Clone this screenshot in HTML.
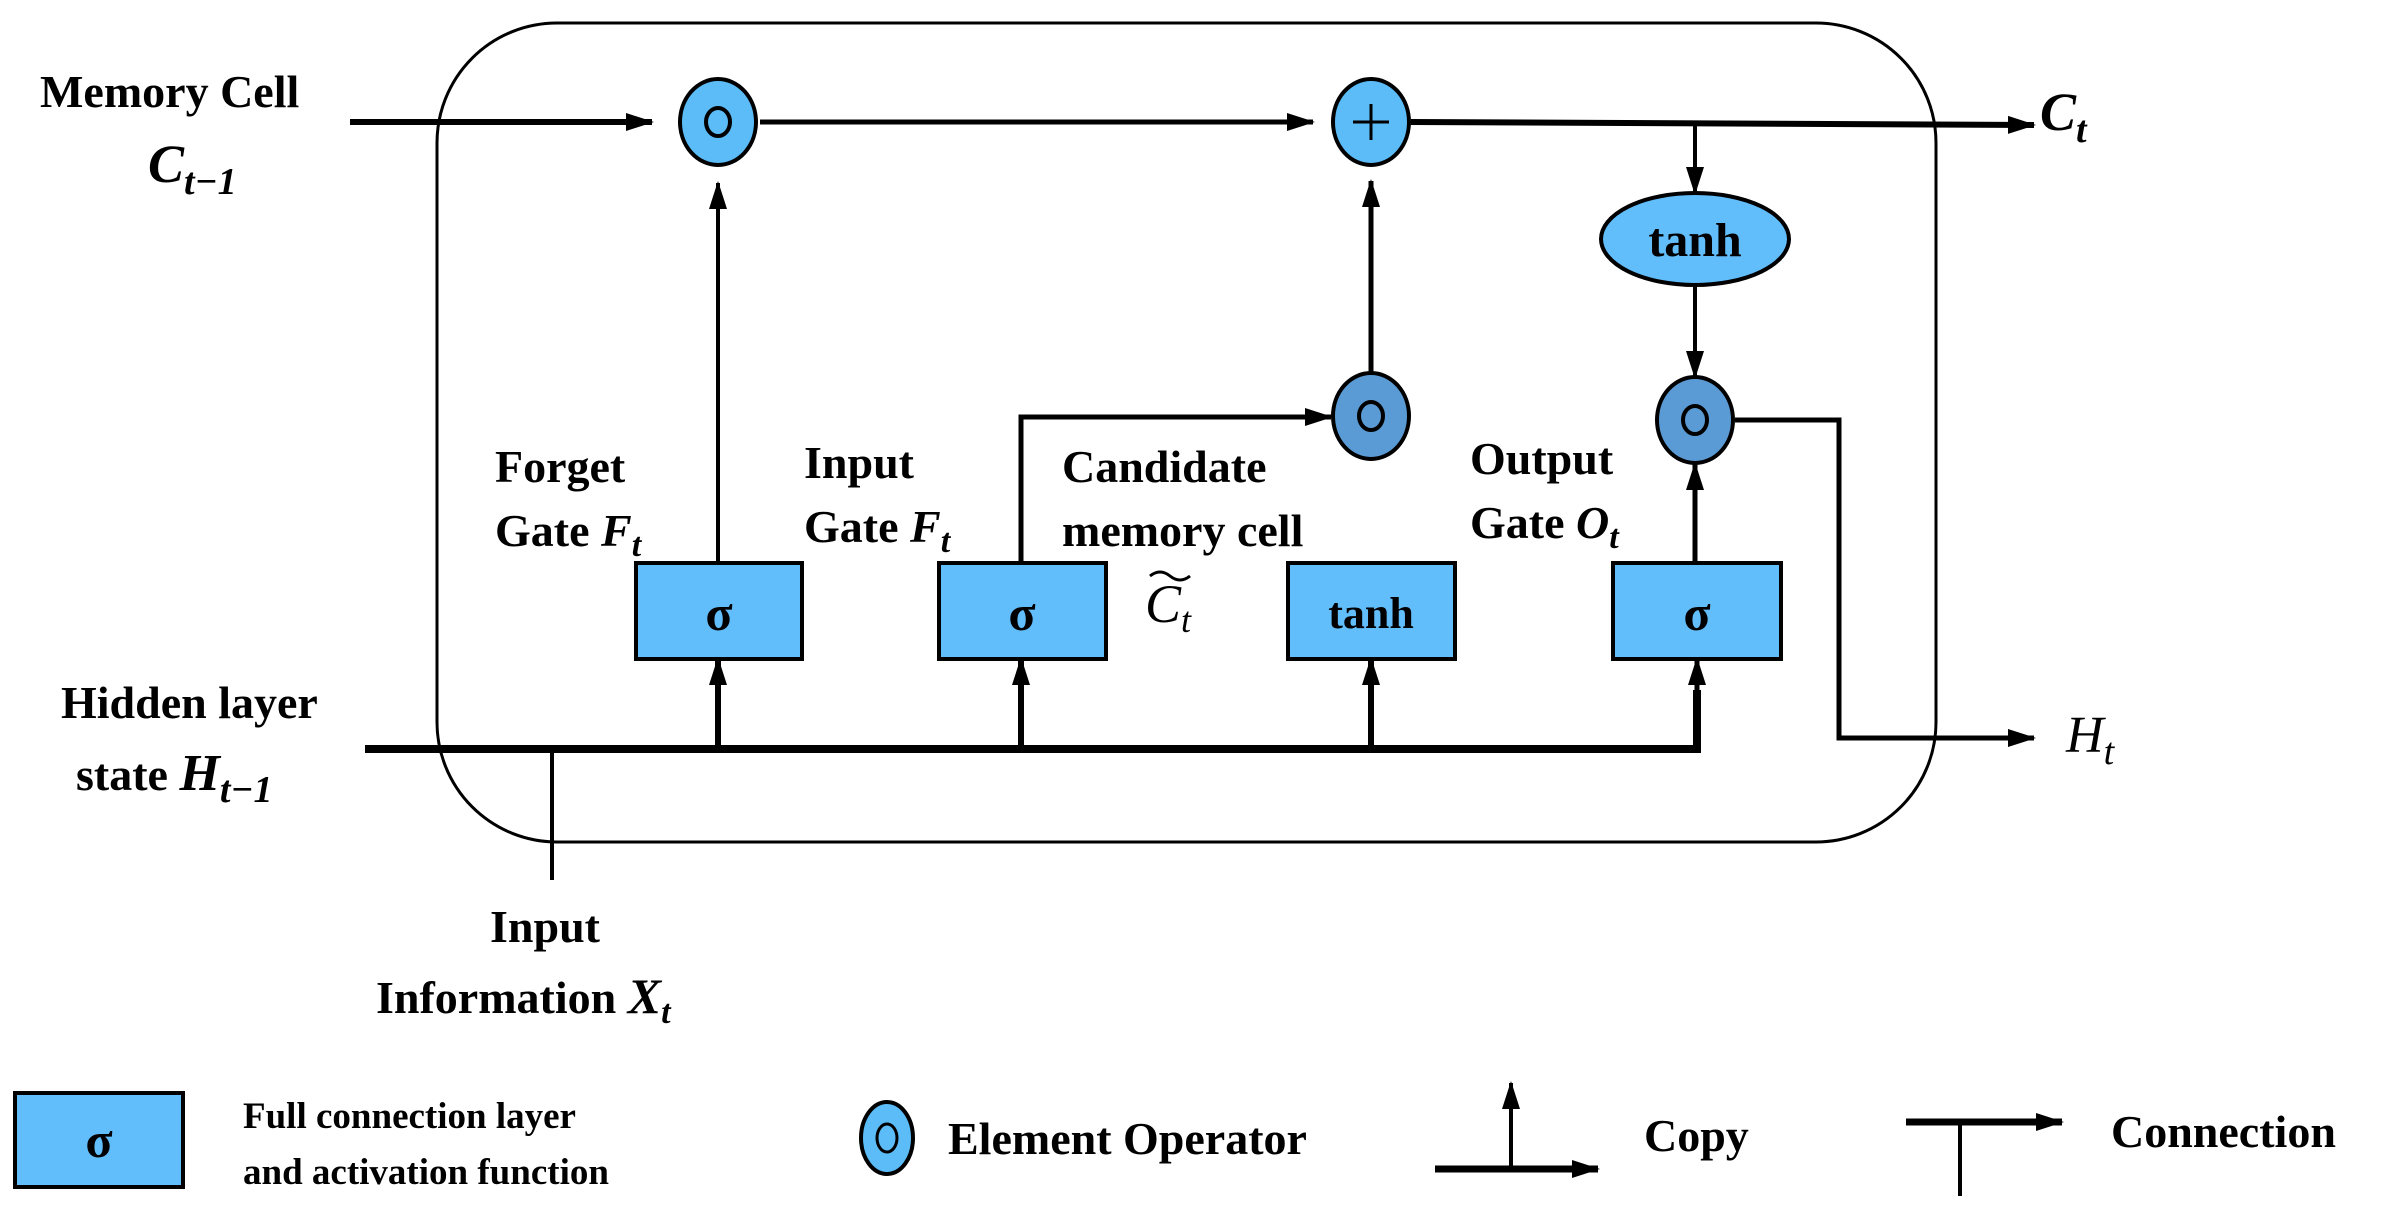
<!DOCTYPE html>
<html><head><meta charset="utf-8"><style>html,body{margin:0;padding:0;background:#fff}svg{display:block}</style></head><body>
<svg width="2386" height="1209" viewBox="0 0 2386 1209" xmlns="http://www.w3.org/2000/svg">
<defs>
<marker id="b" markerWidth="28" markerHeight="24" refX="26" refY="12" orient="auto" markerUnits="userSpaceOnUse" viewBox="0 0 28 24"><path d="M0,3 L28,12 L0,21 z" fill="#000"/></marker>
</defs>
<g font-family="'Liberation Serif', serif" font-weight="bold" fill="#000">
<rect x="437" y="23" width="1499" height="819" rx="120" fill="none" stroke="#000" stroke-width="3"/>
<line x1="350" y1="122" x2="652" y2="122" stroke="#000" stroke-width="6" marker-end="url(#b)"/>
<line x1="760" y1="122" x2="1313" y2="122" stroke="#000" stroke-width="5" marker-end="url(#b)"/>
<line x1="1411" y1="122" x2="2034" y2="125" stroke="#000" stroke-width="6" marker-end="url(#b)"/>
<line x1="1695" y1="122" x2="1695" y2="193" stroke="#000" stroke-width="4" marker-end="url(#b)"/>
<line x1="1695" y1="285" x2="1695" y2="377" stroke="#000" stroke-width="4" marker-end="url(#b)"/>
<line x1="718" y1="563" x2="718" y2="183" stroke="#000" stroke-width="4" marker-end="url(#b)"/>
<line x1="1371" y1="372" x2="1371" y2="181" stroke="#000" stroke-width="5" marker-end="url(#b)"/>
<polyline points="1021,563 1021,417 1331,417" fill="none" stroke="#000" stroke-width="5" marker-end="url(#b)"/>
<line x1="1695" y1="563" x2="1695" y2="464" stroke="#000" stroke-width="5" marker-end="url(#b)"/>
<polyline points="1735,420 1839,420 1839,738 2034,738" fill="none" stroke="#000" stroke-width="5" marker-end="url(#b)"/>
<polyline points="365,749 1697,749 1697,690" fill="none" stroke="#000" stroke-width="8"/>
<line x1="1697" y1="700" x2="1697" y2="659" stroke="#000" stroke-width="5" marker-end="url(#b)"/>
<line x1="718" y1="749" x2="718" y2="659" stroke="#000" stroke-width="6" marker-end="url(#b)"/>
<line x1="1021" y1="749" x2="1021" y2="659" stroke="#000" stroke-width="6" marker-end="url(#b)"/>
<line x1="1371" y1="749" x2="1371" y2="659" stroke="#000" stroke-width="6" marker-end="url(#b)"/>
<line x1="552" y1="749" x2="552" y2="880" stroke="#000" stroke-width="4"/>
<ellipse cx="718" cy="122" rx="38" ry="43" fill="#5bbcf8" stroke="#000" stroke-width="4"/>
<ellipse cx="718" cy="122" rx="12" ry="14" fill="none" stroke="#000" stroke-width="4"/>
<ellipse cx="1371" cy="122" rx="38" ry="43" fill="#5bbcf8" stroke="#000" stroke-width="4"/>
<line x1="1353" y1="122" x2="1389" y2="122" stroke="#000" stroke-width="3"/>
<line x1="1371" y1="104" x2="1371" y2="140" stroke="#000" stroke-width="3"/>
<ellipse cx="1371" cy="416" rx="38" ry="43" fill="#5b9bd5" stroke="#000" stroke-width="4"/>
<ellipse cx="1371" cy="416" rx="12" ry="14" fill="none" stroke="#000" stroke-width="4"/>
<ellipse cx="1695" cy="420" rx="38" ry="43" fill="#5b9bd5" stroke="#000" stroke-width="4"/>
<ellipse cx="1695" cy="420" rx="12" ry="14" fill="none" stroke="#000" stroke-width="4"/>
<ellipse cx="1695" cy="239" rx="94" ry="46" fill="#62bdfb" stroke="#000" stroke-width="4"/>
<text x="1695" y="256" font-size="48" text-anchor="middle">tanh</text>
<rect x="636" y="563" width="166" height="96" fill="#62bdfb" stroke="#000" stroke-width="4"/>
<rect x="939" y="563" width="167" height="96" fill="#62bdfb" stroke="#000" stroke-width="4"/>
<rect x="1288" y="563" width="167" height="96" fill="#62bdfb" stroke="#000" stroke-width="4"/>
<rect x="1613" y="563" width="168" height="96" fill="#62bdfb" stroke="#000" stroke-width="4"/>
<text x="719" y="630" font-size="50" text-anchor="middle">σ</text>
<text x="1022" y="630" font-size="50" text-anchor="middle">σ</text>
<text x="1371" y="628" font-size="44" text-anchor="middle">tanh</text>
<text x="1697" y="630" font-size="50" text-anchor="middle">σ</text>
<text x="40" y="107" font-size="46">Memory Cell</text>
<text x="148" y="182" font-size="54" font-style="italic">C<tspan font-size="38" dy="12">t−1</tspan></text>
<text x="2040" y="130" font-size="54" font-style="italic">C<tspan font-size="38" dy="12">t</tspan></text>
<text x="2066" y="752" font-size="52" font-style="italic" font-weight="normal">H<tspan font-size="38" dy="12">t</tspan></text>
<text x="495" y="482" font-size="46">Forget</text>
<text x="495" y="546" font-size="46">Gate <tspan font-style="italic">F</tspan><tspan font-style="italic" font-size="34" dy="10">t</tspan></text>
<text x="804" y="478" font-size="46">Input</text>
<text x="804" y="542" font-size="46">Gate <tspan font-style="italic">F</tspan><tspan font-style="italic" font-size="34" dy="10">t</tspan></text>
<text x="1062" y="482" font-size="46">Candidate</text>
<text x="1062" y="546" font-size="46">memory cell</text>
<text x="1145" y="622" font-size="54" font-style="italic" font-weight="normal">C<tspan font-size="36" dy="10">t</tspan></text>
<path d="M1150,576 q10,-8 20,0 q10,8 20,0" fill="none" stroke="#000" stroke-width="3"/>
<text x="1470" y="474" font-size="46">Output</text>
<text x="1470" y="538" font-size="46">Gate <tspan font-style="italic">O</tspan><tspan font-style="italic" font-size="34" dy="10">t</tspan></text>
<text x="61" y="718" font-size="46">Hidden layer</text>
<text x="76" y="790" font-size="46">state  <tspan font-style="italic" font-size="52">H</tspan><tspan font-style="italic" font-size="38" dy="12">t−1</tspan></text>
<text x="490" y="942" font-size="46">Input</text>
<text x="376" y="1013" font-size="46">Information <tspan font-style="italic" font-size="50">X</tspan><tspan font-style="italic" font-size="34" dy="10">t</tspan></text>
<rect x="15" y="1093" width="168" height="94" fill="#62bdfb" stroke="#000" stroke-width="4"/>
<text x="99" y="1157" font-size="50" text-anchor="middle">σ</text>
<text x="243" y="1128" font-size="37">Full connection layer</text>
<text x="243" y="1184" font-size="37">and activation function</text>
<ellipse cx="887" cy="1138" rx="26" ry="36" fill="#5bbcf8" stroke="#000" stroke-width="4"/>
<ellipse cx="887" cy="1138" rx="10" ry="14" fill="none" stroke="#000" stroke-width="3"/>
<text x="948" y="1154" font-size="46">Element Operator</text>
<line x1="1511" y1="1169" x2="1511" y2="1083" stroke="#000" stroke-width="4" marker-end="url(#b)"/>
<line x1="1435" y1="1169" x2="1598" y2="1169" stroke="#000" stroke-width="7" marker-end="url(#b)"/>
<text x="1644" y="1151" font-size="46">Copy</text>
<line x1="1906" y1="1122" x2="2062" y2="1122" stroke="#000" stroke-width="7" marker-end="url(#b)"/>
<line x1="1960" y1="1122" x2="1960" y2="1196" stroke="#000" stroke-width="4"/>
<text x="2111" y="1147" font-size="46">Connection</text>
</g>
</svg>
</body></html>
